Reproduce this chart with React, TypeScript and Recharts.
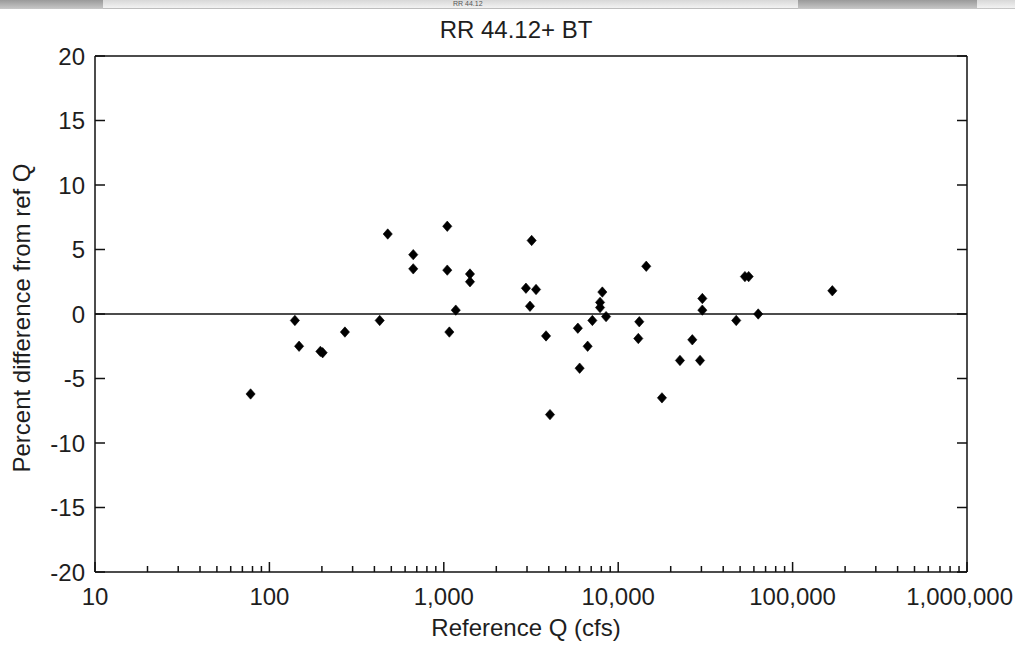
import React from 'react';
import { ScatterChart, Scatter, XAxis, YAxis, ReferenceLine } from 'recharts';

// Reference discharge (cfs)
const qValues = [
  78, 140, 148, 196, 202, 271, 429, 477, 668, 668,
  1047, 1047, 1076, 1171, 1413, 1413, 2958, 3190, 3120, 3380,
  3857, 4064, 5870, 6010, 6680, 7110, 7870, 7870, 8110, 8520,
  13210, 13040, 14480, 17820, 22600, 26600, 29460, 30370, 30370, 47500,
  53300, 56000, 63500, 169000,
];
// Percent difference from reference Q
const pctDiff = [
  -6.2, -0.5, -2.5, -2.9, -3.0, -1.4, -0.5, 6.2, 4.6, 3.5,
  6.8, 3.4, -1.4, 0.3, 3.1, 2.5, 2.0, 5.7, 0.6, 1.9,
  -1.7, -7.8, -1.1, -4.2, -2.5, -0.5, 0.5, 0.9, 1.7, -0.2,
  -0.6, -1.9, 3.7, -6.5, -3.6, -2.0, -3.6, 1.2, 0.3, -0.5,
  2.9, 2.9, 0.0, 1.8,
];

const xMajorTicks = [10, 100, 1000, 10000, 100000, 1000000];
const xMinorMultipliers = [2, 3, 4, 5, 6, 7, 8, 9];
const yTicks = [-20, -15, -10, -5, 0, 5, 10, 15, 20];

const titleText = 'RR 44.12+ BT';
const xLabel = 'Reference Q (cfs)';
const yLabel = 'Percent difference from ref Q';
const windowText = 'RR 44.12';

const points = qValues.map((q, i) => ({ q, pct: pctDiff[i] }));
const xAllTicks: number[] = [];
xMajorTicks.forEach((d, i) => {
  xAllTicks.push(d);
  if (i < xMajorTicks.length - 1) xMinorMultipliers.forEach((m) => xAllTicks.push(d * m));
});

const FONT = '"Liberation Sans", Arial, sans-serif';
const TXT = '#1e1e1e';
const AX = '#111';
const SW = 1.5;
const MAJ = 10;
const MIN = 6;
const CHART_W = 1015;

const isMajor = (v: number) => xMajorTicks.includes(v);
const fmt = (v: number) => v.toLocaleString('en-US');

const BottomTick = (props: any) => {
  const { x, y, payload } = props;
  const v = payload.value;
  const major = isMajor(v);
  // keep the last label inside the picture
  const nearEdge = x + 55 > CHART_W;
  return (
    <g>
      <line x1={x} x2={x} y1={y} y2={y - (major ? MAJ : MIN)} stroke={AX} strokeWidth={SW} />
      {major && (
        <text
          x={nearEdge ? CHART_W - 2 : x}
          y={y + 33}
          textAnchor={nearEdge ? 'end' : 'middle'}
          fontFamily={FONT}
          fontSize={24}
          fill={TXT}
        >
          {fmt(v)}
        </text>
      )}
    </g>
  );
};

const TopTick = (props: any) => {
  const { x, y, payload } = props;
  const major = isMajor(payload.value);
  return <line x1={x} x2={x} y1={y} y2={y + (major ? MAJ : MIN)} stroke={AX} strokeWidth={SW} />;
};

const LeftTick = (props: any) => {
  const { x, y, payload } = props;
  return (
    <g>
      <line x1={x} x2={x + MAJ} y1={y} y2={y} stroke={AX} strokeWidth={SW} />
      <text x={x - 10} y={y + 8.5} textAnchor="end" fontFamily={FONT} fontSize={24} fill={TXT}>
        {payload.value}
      </text>
    </g>
  );
};

const RightTick = (props: any) => {
  const { x, y } = props;
  return <line x1={x} x2={x - MAJ} y1={y} y2={y} stroke={AX} strokeWidth={SW} />;
};

const Diamond = (props: any) => {
  const { cx, cy } = props;
  if (cx == null || cy == null) return null;
  const w = 4.6;
  const h = 5.2;
  return (
    <polygon
      points={`${cx},${cy - h} ${cx + w},${cy} ${cx},${cy + h} ${cx - w},${cy}`}
      fill="#000"
      stroke="#000"
      strokeWidth={0.6}
    />
  );
};

export default function App() {
  return (
    <div style={{ position: 'absolute', left: 0, top: 0, width: 1015, height: 647, background: '#fff', overflow: 'hidden' }}>
      {/* window strip at the top */}
      <div style={{ position: 'absolute', left: 0, top: 0, width: 1015, height: 9, background: 'linear-gradient(#9a9a9a, #c8c8c8)' }} />
      <div style={{ position: 'absolute', left: 103, top: 0, width: 695, height: 8, background: 'linear-gradient(#d8d8d8, #f2f2f2)', borderBottom: '1px solid #bdbdbd' }}>
        <div style={{ position: 'absolute', left: 350, top: 0, fontFamily: FONT, fontSize: 7, lineHeight: '8px', color: '#555', whiteSpace: 'nowrap' }}>{windowText}</div>
      </div>
      <div style={{ position: 'absolute', left: 977, top: 0, width: 38, height: 8, background: 'linear-gradient(#d8d8d8, #f2f2f2)' }} />

      <div style={{ position: 'absolute', left: 0, top: 0 }}>
        <ScatterChart width={CHART_W} height={647} margin={{ top: 55, right: 47, bottom: 74, left: 94 }}>
          <XAxis
            xAxisId="b"
            dataKey="q"
            type="number"
            scale="log"
            domain={[10, 1000000]}
            allowDataOverflow
            ticks={xAllTicks}
            interval={0}
            tickSize={0}
            tickMargin={0}
            tickLine={false}
            tick={BottomTick}
            axisLine={{ stroke: AX, strokeWidth: SW }}
            height={1}
            orientation="bottom"
          />
          <XAxis
            xAxisId="t"
            type="number"
            scale="log"
            domain={[10, 1000000]}
            allowDataOverflow
            ticks={xAllTicks}
            interval={0}
            tickSize={0}
            tickMargin={0}
            tickLine={false}
            tick={TopTick}
            axisLine={{ stroke: AX, strokeWidth: SW }}
            height={1}
            orientation="top"
          />
          <YAxis
            yAxisId="l"
            dataKey="pct"
            type="number"
            domain={[-20, 20]}
            allowDataOverflow
            ticks={yTicks}
            interval={0}
            tickSize={0}
            tickMargin={0}
            tickLine={false}
            tick={LeftTick}
            axisLine={{ stroke: AX, strokeWidth: SW }}
            width={1}
            orientation="left"
          />
          <YAxis
            yAxisId="r"
            type="number"
            domain={[-20, 20]}
            allowDataOverflow
            ticks={yTicks}
            interval={0}
            tickSize={0}
            tickMargin={0}
            tickLine={false}
            tick={RightTick}
            axisLine={{ stroke: AX, strokeWidth: SW }}
            width={1}
            orientation="right"
          />
          <ReferenceLine xAxisId="b" yAxisId="l" y={0} stroke={AX} strokeWidth={SW} />
          <Scatter
            data={points}
            xAxisId="b"
            yAxisId="l"
            shape={Diamond}
            isAnimationActive={false}
          />
        </ScatterChart>
      </div>

      <svg width={1015} height={647} style={{ position: 'absolute', left: 0, top: 0, pointerEvents: 'none' }}>
        <text x={516} y={38} textAnchor="middle" fontFamily={FONT} fontSize={24} fill={TXT}>
          {titleText}
        </text>
        <text x={526} y={636} textAnchor="middle" fontFamily={FONT} fontSize={24} fill={TXT}>
          {xLabel}
        </text>
        <text
          x={30}
          y={318}
          textAnchor="middle"
          fontFamily={FONT}
          fontSize={24}
          fill={TXT}
          transform="rotate(-90 30 318)"
        >
          {yLabel}
        </text>
      </svg>
    </div>
  );
}
